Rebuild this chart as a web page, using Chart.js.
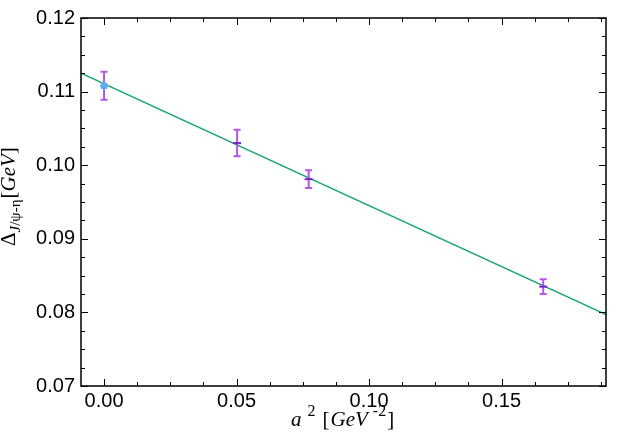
<!DOCTYPE html>
<html>
<head>
<meta charset="utf-8">
<script src="https://cdn.jsdelivr.net/npm/chart.js@4"></script>
<style>
html, body { margin: 0; padding: 0; background: #fff; }
</style>
</head>
<body>
<canvas id="mycanvas" width="623" height="436"></canvas>
<script>
// lattice points: a^2 and the splitting with its error
var aSq = [0.0, 0.0502, 0.0772, 0.1657];
var delta = [0.1108, 0.1030, 0.0981, 0.0835];
var deltaErr = [0.0019, 0.0018, 0.0012, 0.0010];
// linear fit, read at the two edges of the plot
var fitX = [-0.0087, 0.1894];
var fitY = [0.1125, 0.0797];
var xTicks = [0.0, 0.05, 0.10, 0.15];
var yTicks = [0.07, 0.08, 0.09, 0.10, 0.11, 0.12];

var tickFont = { family: "'Liberation Sans', Arial, sans-serif", size: 20 };
var serif = "'Liberation Serif', 'Times New Roman', serif";

function pts(xs, ys) {
	var out = [];
	for (var i = 0; i < xs.length; i++) out.push({ x: xs[i], y: ys[i] });
	return out;
}

// frame, inward ticks on all four sides, error bars, axis titles
var decorations = {
	id: 'decorations',
	afterDatasetDraw: function (chart, args) {
		if (args.index !== 0) return;
		var ctx = chart.ctx, x = chart.scales.x, y = chart.scales.y;
		ctx.save();
		for (var i = 0; i < aSq.length; i++) {
			var px = x.getPixelForValue(aSq[i]);
			var top = y.getPixelForValue(delta[i] + deltaErr[i]);
			var bot = y.getPixelForValue(delta[i] - deltaErr[i]);
			ctx.strokeStyle = '#b656e8';
			ctx.lineWidth = 2;
			ctx.beginPath();
			ctx.moveTo(px, top); ctx.lineTo(px, bot);
			ctx.moveTo(px - 3.5, top); ctx.lineTo(px + 3.5, top);
			ctx.moveTo(px - 3.5, bot); ctx.lineTo(px + 3.5, bot);
			ctx.stroke();
		}
		ctx.restore();
	},
	afterDraw: function (chart) {
		var ctx = chart.ctx, a = chart.chartArea, x = chart.scales.x, y = chart.scales.y;
		ctx.save();
		ctx.strokeStyle = '#000';
		ctx.lineWidth = 1;
		function ticks(scale, step, horiz) {
			var k0 = Math.ceil(scale.min / step - 1e-6), k1 = Math.floor(scale.max / step + 1e-6);
			for (var k = k0; k <= k1; k++) {
				var v = k * step;
				var major = Math.abs(v / 0.05 - Math.round(v / 0.05)) < 1e-6 || (!horiz && Math.abs(v / 0.01 - Math.round(v / 0.01)) < 1e-6);
				var len = major ? 7 : 4;
				var p = Math.round(scale.getPixelForValue(v)) + 0.5;
				ctx.beginPath();
				if (horiz) {
					ctx.moveTo(p, a.bottom); ctx.lineTo(p, a.bottom - len);
					ctx.moveTo(p, a.top); ctx.lineTo(p, a.top + len);
				} else {
					ctx.moveTo(a.left, p); ctx.lineTo(a.left + len, p);
					ctx.moveTo(a.right, p); ctx.lineTo(a.right - len, p);
				}
				ctx.stroke();
			}
		}
		ticks(x, 0.0125, true);
		ticks(y, 0.0025, false);
		ctx.lineWidth = 1.5;
		ctx.strokeRect(a.left, a.top, a.right - a.left, a.bottom - a.top);

		// x title: a^2 [GeV^-2]
		ctx.fillStyle = '#000';
		ctx.textBaseline = 'alphabetic';
		ctx.textAlign = 'left';
		var bx = 291, by = 426;
		ctx.font = 'italic 21px ' + serif; ctx.fillText('a', bx, by); bx += ctx.measureText('a').width + 6;
		ctx.font = '16px ' + serif; ctx.fillText('2', bx, by - 10); bx += ctx.measureText('2').width + 7;
		ctx.font = '21px ' + serif; ctx.fillText('[', bx, by); bx += ctx.measureText('[').width + 1;
		ctx.font = 'italic 21px ' + serif; ctx.fillText('GeV', bx, by); bx += ctx.measureText('GeV').width + 5;
		ctx.font = '16px ' + serif; ctx.fillText('-2', bx, by - 10); bx += ctx.measureText('-2').width + 1;
		ctx.font = '21px ' + serif; ctx.fillText(']', bx, by);

		// y title: Delta_{J/psi-eta}[GeV], rotated
		ctx.translate(15, 246);
		ctx.rotate(-Math.PI / 2);
		var tx = 0;
		ctx.font = '21px ' + serif; ctx.fillText('\u0394', tx, 0); tx += ctx.measureText('\u0394').width;
		ctx.font = 'italic 15px ' + serif; ctx.fillText('J', tx, 5); tx += ctx.measureText('J').width;
		ctx.font = '15px ' + serif; ctx.fillText('/\u03c8-\u03b7', tx, 5); tx += ctx.measureText('/\u03c8-\u03b7').width + 1;
		ctx.font = '21px ' + serif; ctx.fillText('[', tx, 0); tx += ctx.measureText('[').width;
		ctx.font = 'italic 21px ' + serif; ctx.fillText('GeV', tx, 0); tx += ctx.measureText('GeV').width;
		ctx.font = '21px ' + serif; ctx.fillText(']', tx, 0);
		ctx.restore();
	}
};

var ctx = document.getElementById('mycanvas');
var chart = new Chart(ctx, {
	type: 'scatter',
	data: {
		datasets: [
			{
				label: 'fit',
				data: pts(fitX, fitY),
				showLine: true,
				borderColor: '#1fa67a',
				borderWidth: 1.5,
				pointRadius: 0,
				order: 3
			},
			{
				label: 'lattice',
				data: pts(aSq, delta),
				pointStyle: ['star', 'line', 'line', 'line'],
				pointRadius: [4, 4, 4, 4],
				borderColor: ['#5fa8f0', '#7a24c8', '#7a24c8', '#7a24c8'],
				backgroundColor: ['#5fa8f0', '#7a24c8', '#7a24c8', '#7a24c8'],
				borderWidth: 2,
				order: 1
			}
		]
	},
	options: {
		responsive: false,
		animation: false,
		layout: { padding: { top: 10, right: 17, left: 0, bottom: 0 } },
		plugins: { legend: { display: false }, tooltip: { enabled: false } },
		scales: {
			x: {
				type: 'linear',
				min: fitX[0],
				max: fitX[1],
				grid: { display: false, drawTicks: false },
				border: { display: false },
				afterBuildTicks: function (s) { s.ticks = xTicks.map(function (v) { return { value: v }; }); },
				afterFit: function (s) { s.height = 50; },
				ticks: {
					color: '#000',
					font: tickFont,
					padding: 3,
					maxRotation: 0,
					callback: function (v) { return v.toFixed(2); }
				}
			},
			y: {
				type: 'linear',
				min: 0.07,
				max: 0.12,
				grid: { display: false, drawTicks: false },
				border: { display: false },
				afterBuildTicks: function (s) { s.ticks = yTicks.map(function (v) { return { value: v }; }); },
				afterFit: function (s) { s.width = 81; },
				ticks: {
					color: '#000',
					font: tickFont,
					padding: 6,
					callback: function (v) { return v.toFixed(2); }
				}
			}
		}
	},
	plugins: [decorations]
});
</script>
</body>
</html>
